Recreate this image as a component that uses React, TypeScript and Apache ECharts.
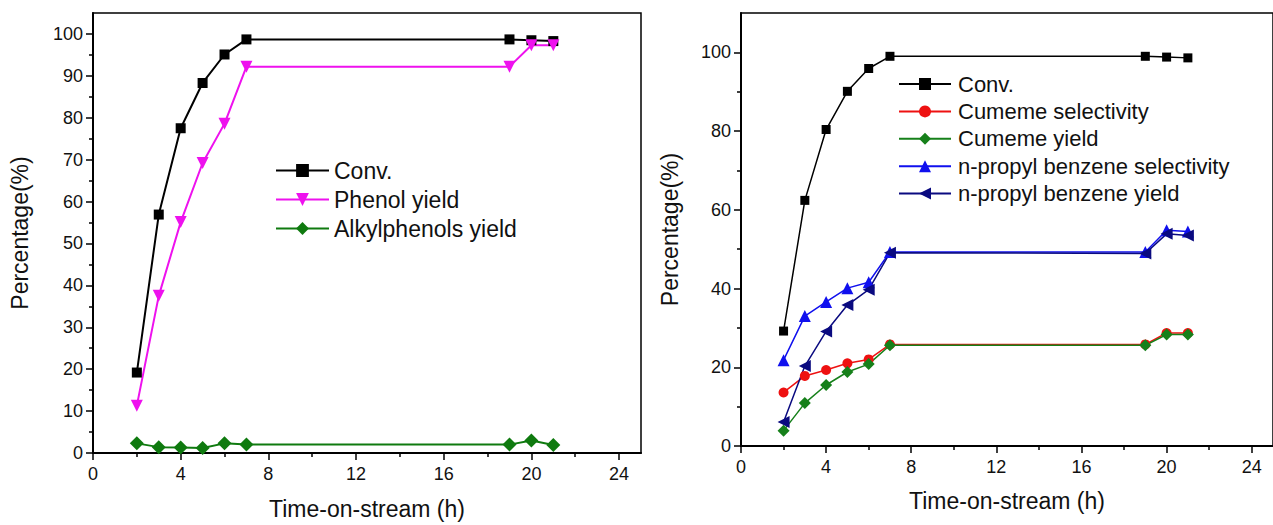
import React, { useEffect, useRef } from "react";
import * as echarts from "echarts";

const hours = [2, 3, 4, 5, 6, 7, 19, 20, 21];

// Left panel
const convA = [19.2, 56.9, 77.5, 88.3, 95.1, 98.7, 98.7, 98.5, 98.3];
const phenolYield = [11.3, 37.5, 55.1, 69.2, 78.6, 92.2, 92.2, 97.3, 97.3];
const alkylphenolsYield = [2.3, 1.4, 1.3, 1.2, 2.3, 2.0, 2.0, 3.0, 1.9];

// Right panel
const convB = [29.2, 62.4, 80.4, 90.1, 95.9, 99.0, 99.0, 98.8, 98.6];
const cumemeSel = [13.6, 17.8, 19.3, 21.0, 22.0, 25.8, 25.8, 28.7, 28.7];
const cumemeYield = [3.9, 10.9, 15.5, 18.8, 20.8, 25.6, 25.6, 28.3, 28.3];
const npbSel = [21.8, 33.0, 36.6, 40.1, 41.6, 49.3, 49.3, 54.8, 54.5];
const npbYield = [6.1, 20.3, 29.1, 35.8, 39.7, 49.1, 48.9, 53.9, 53.5];

const xMajor = [0, 4, 8, 12, 16, 20, 24];
const xMinor = [2, 6, 10, 14, 18, 22];
const yMajorA = [0, 10, 20, 30, 40, 50, 60, 70, 80, 90, 100];
const yMinorA = [5, 15, 25, 35, 45, 55, 65, 75, 85, 95];
const yMajorB = [0, 20, 40, 60, 80, 100];
const yMinorB = [10, 30, 50, 70, 90];

const FONT = "Liberation Sans, Arial, sans-serif";

const pair = (ys: number[]) => hours.map((h, i) => [h, ys[i]]);

export default function App() {
  const ref = useRef<HTMLDivElement>(null);
  useEffect(() => {
    if (!ref.current) return;
    const chart = echarts.init(ref.current, null, { renderer: "svg" });

    const majorX = (grid: number, name: string, gap: number) => ({
      type: "value",
      gridIndex: grid,
      position: "bottom",
      min: 0,
      max: 25,
      name,
      nameLocation: "middle",
      nameGap: gap,
      nameTextStyle: { fontFamily: FONT, fontSize: 23, color: "#111" },
      axisLine: { show: true, onZero: false, lineStyle: { color: "#000", width: 2 } },
      axisTick: { show: true, inside: false, length: 7, customValues: xMajor, lineStyle: { color: "#000", width: 1.5 } },
      axisLabel: { show: true, margin: 12, customValues: xMajor, fontFamily: FONT, fontSize: 18, color: "#111" },
      splitLine: { show: false },
    });
    const minorX = (grid: number) => ({
      type: "value",
      gridIndex: grid,
      position: "bottom",
      offset: 0,
      min: 0,
      max: 25,
      axisLine: { show: false, onZero: false },
      axisTick: { show: true, inside: false, length: 4, customValues: xMinor, lineStyle: { color: "#000", width: 1.5 } },
      axisLabel: { show: false },
      splitLine: { show: false },
    });
    const majorY = (grid: number, max: number, ticks: number[], gap: number) => ({
      type: "value",
      gridIndex: grid,
      position: "left",
      min: 0,
      max,
      name: "Percentage(%)",
      nameLocation: "middle",
      nameGap: gap,
      nameTextStyle: { fontFamily: FONT, fontSize: 23, color: "#111" },
      axisLine: { show: true, onZero: false, lineStyle: { color: "#000", width: 2 } },
      axisTick: { show: true, inside: false, length: 7, customValues: ticks, lineStyle: { color: "#000", width: 1.5 } },
      axisLabel: { show: true, margin: 10, customValues: ticks, fontFamily: FONT, fontSize: 18, color: "#111" },
      splitLine: { show: false },
    });
    const minorY = (grid: number, max: number, ticks: number[]) => ({
      type: "value",
      gridIndex: grid,
      position: "left",
      offset: 0,
      min: 0,
      max,
      axisLine: { show: false, onZero: false },
      axisTick: { show: true, inside: false, length: 4, customValues: ticks, lineStyle: { color: "#000", width: 1.5 } },
      axisLabel: { show: false },
      splitLine: { show: false },
    });

    const line = (
      name: string,
      ys: number[],
      color: string,
      symbol: string,
      size: number,
      axis: number,
      width: number,
      rotate = 0
    ) => ({
      type: "line",
      name,
      data: pair(ys),
      xAxisIndex: axis,
      yAxisIndex: axis,
      symbol,
      symbolSize: size,
      symbolRotate: rotate,
      showAllSymbol: true,
      lineStyle: { color, width },
      itemStyle: { color },
      emphasis: { disabled: true },
    });

    chart.setOption({
      animation: false,
      backgroundColor: "#fff",
      grid: [
        { left: 93, top: 13, width: 548, height: 441, show: true, borderColor: "#000", borderWidth: 1.5, backgroundColor: "transparent" },
        { left: 741, top: 13, width: 540, height: 433, show: true, borderColor: "#000", borderWidth: 1.5, backgroundColor: "transparent" },
      ],
      xAxis: [
        majorX(0, "Time-on-stream (h)", 44),
        majorX(1, "Time-on-stream (h)", 43),
        minorX(0),
        minorX(1),
      ],
      yAxis: [
        majorY(0, 105, yMajorA, 62),
        majorY(1, 110, yMajorB, 60),
        minorY(0, 105, yMinorA),
        minorY(1, 110, yMinorB),
      ],
      legend: [
        {
          left: 275,
          top: 159,
          padding: 0,
          orient: "vertical",
          itemWidth: 53,
          itemHeight: 16,
          itemGap: 6,
          textStyle: { fontFamily: FONT, fontSize: 23, color: "#111" },
          data: ["Conv.", "Phenol yield", "Alkylphenols yield"],
        },
        {
          left: 898,
          top: 73,
          padding: 0,
          orient: "vertical",
          itemWidth: 52,
          itemHeight: 15,
          itemGap: 5.4,
          textStyle: { fontFamily: FONT, fontSize: 22, color: "#111", padding: [0, 0, 0, 2] },
          data: [
            "Conv. ",
            "Cumeme selectivity",
            "Cumeme yield",
            "n-propyl benzene selectivity",
            "n-propyl benzene yield",
          ],
          formatter: (n: string) => n.trim(),
        },
      ],
      series: [
        line("Conv.", convA, "#000000", "rect", 10, 0, 2),
        line("Phenol yield", phenolYield, "#ee11ee", "triangle", 12, 0, 2, 180),
        line("Alkylphenols yield", alkylphenolsYield, "#0f7a0f", "diamond", 14, 0, 2),
        line("Conv. ", convB, "#000000", "rect", 9, 1, 1.5),
        line("Cumeme selectivity", cumemeSel, "#ee1111", "circle", 10, 1, 1.5),
        line("Cumeme yield", cumemeYield, "#16801a", "diamond", 12, 1, 1.5),
        line("n-propyl benzene selectivity", npbSel, "#1010ee", "triangle", 12, 1, 1.5),
        line("n-propyl benzene yield", npbYield, "#0a0a80", "triangle", 12, 1, 1.5, 90),
      ],
    });
    return () => chart.dispose();
  }, []);
  return (
    <div
      ref={ref}
      style={{ position: "fixed", left: 0, top: 0, width: 1273, height: 525, background: "#fff" }}
    />
  );
}
